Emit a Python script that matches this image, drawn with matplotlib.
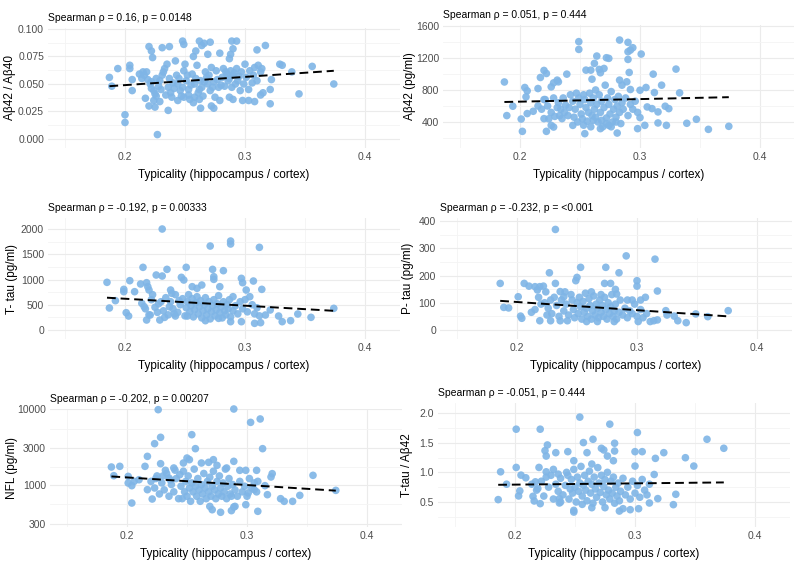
import numpy as np
import matplotlib
matplotlib.use('Agg')
from matplotlib import pyplot as plt

plt.rcParams['font.family'] = ['Liberation Sans', 'DejaVu Sans']

x_label = 'Typicality (hippocampus / cortex)'
x_ticks = [0.2, 0.3, 0.4]

# ---- panel data (typicality, marker value) ----
ab_ratio_pts = [
    (0.187, 0.056), (0.189, 0.048), (0.194, 0.064), (0.200, 0.022), (0.200, 0.015), (0.204, 0.067),
    (0.204, 0.064), (0.206, 0.054), (0.206, 0.044), (0.227, 0.004), (0.220, 0.084), (0.222, 0.080),
    (0.223, 0.074), (0.231, 0.083), (0.237, 0.084), (0.248, 0.089), (0.249, 0.086), (0.257, 0.075),
    (0.259, 0.080), (0.262, 0.089), (0.264, 0.085), (0.266, 0.087), (0.271, 0.088), (0.269, 0.077),
    (0.279, 0.078), (0.289, 0.089), (0.293, 0.089), (0.290, 0.082), (0.288, 0.077), (0.287, 0.073),
    (0.310, 0.081), (0.317, 0.085), (0.329, 0.068), (0.331, 0.067), (0.339, 0.061), (0.356, 0.066),
    (0.374, 0.050), (0.345, 0.041), (0.321, 0.045), (0.321, 0.032), (0.315, 0.042), (0.313, 0.040),
    (0.322, 0.054), (0.308, 0.034), (0.303, 0.035), (0.298, 0.035), (0.290, 0.036), (0.287, 0.038),
    (0.272, 0.030), (0.274, 0.028), (0.263, 0.028), (0.236, 0.026), (0.225, 0.029), (0.220, 0.030),
    (0.217, 0.037), (0.224, 0.035), (0.229, 0.034),
    (0.215, 0.061), (0.216, 0.058), (0.218, 0.061), (0.219, 0.054), (0.221, 0.050), (0.222, 0.046),
    (0.224, 0.044), (0.225, 0.041), (0.226, 0.039), (0.228, 0.048), (0.229, 0.053), (0.231, 0.058),
    (0.232, 0.061), (0.233, 0.064), (0.235, 0.068), (0.236, 0.047), (0.238, 0.042), (0.239, 0.038),
    (0.240, 0.051), (0.242, 0.071), (0.243, 0.058), (0.244, 0.050), (0.246, 0.044), (0.247, 0.039),
    (0.249, 0.062), (0.250, 0.068), (0.251, 0.053), (0.253, 0.045), (0.254, 0.036), (0.256, 0.059),
    (0.257, 0.033), (0.258, 0.050), (0.260, 0.067), (0.261, 0.042), (0.263, 0.053), (0.264, 0.047),
    (0.265, 0.039), (0.267, 0.061), (0.268, 0.056), (0.269, 0.050), (0.271, 0.044), (0.272, 0.065),
    (0.274, 0.052), (0.275, 0.038), (0.276, 0.062), (0.278, 0.047), (0.279, 0.035), (0.281, 0.056),
    (0.282, 0.064), (0.283, 0.048), (0.285, 0.059), (0.286, 0.053), (0.288, 0.062), (0.289, 0.047),
    (0.290, 0.058), (0.292, 0.050), (0.293, 0.064), (0.294, 0.053), (0.296, 0.044), (0.297, 0.061),
    (0.299, 0.050), (0.300, 0.068), (0.301, 0.056), (0.303, 0.045), (0.304, 0.062), (0.306, 0.051),
    (0.307, 0.058), (0.308, 0.065), (0.310, 0.053), (0.311, 0.067), (0.313, 0.061), (0.314, 0.064),
    (0.212, 0.059), (0.214, 0.055), (0.222, 0.052), (0.226, 0.055), (0.230, 0.045), (0.234, 0.040),
    (0.237, 0.055), (0.241, 0.046), (0.245, 0.055), (0.248, 0.047), (0.252, 0.058), (0.255, 0.049),
    (0.259, 0.055), (0.262, 0.045), (0.266, 0.052), (0.270, 0.058), (0.273, 0.047), (0.277, 0.054),
    (0.280, 0.049), (0.284, 0.061), (0.287, 0.055), (0.291, 0.060), (0.295, 0.057), (0.253, 0.040),
    (0.258, 0.038), (0.262, 0.036), (0.244, 0.035), (0.249, 0.038),
]

ab42_pts = [
    (0.187, 900), (0.189, 480), (0.194, 597), (0.201, 437), (0.202, 283), (0.204, 831), (0.206, 789),
    (0.205, 714), (0.206, 505), (0.211, 534), (0.215, 818), (0.217, 956), (0.220, 1044), (0.222, 1006),
    (0.221, 680), (0.220, 442), (0.222, 283), (0.226, 358), (0.228, 337), (0.226, 839), (0.228, 889),
    (0.231, 923), (0.232, 902), (0.235, 442), (0.239, 998), (0.244, 358), (0.249, 1404), (0.249, 1307),
    (0.254, 254), (0.255, 1048), (0.259, 1048), (0.260, 935), (0.262, 1132), (0.264, 1224), (0.266, 1057),
    (0.267, 1015), (0.270, 1069), (0.272, 1203), (0.274, 1195), (0.283, 1424), (0.290, 1395), (0.292, 1299),
    (0.294, 1328), (0.290, 1278), (0.290, 1182), (0.291, 1019), (0.301, 1249), (0.311, 998), (0.330, 1061),
    (0.333, 764), (0.339, 384), (0.347, 434), (0.357, 308), (0.374, 346), (0.298, 317), (0.300, 455),
    (0.304, 358), (0.315, 388), (0.322, 358), (0.312, 768), (0.318, 860), (0.321, 597), (0.324, 567),
    (0.300, 797), (0.305, 831), (0.306, 588), (0.310, 567), (0.315, 526), (0.281, 262), (0.274, 358),
    (0.267, 317), (0.261, 421), (0.283, 923), (0.285, 860), (0.289, 902), (0.292, 806),
    (0.223, 600), (0.226, 520), (0.229, 470), (0.232, 640), (0.234, 560), (0.236, 700), (0.238, 610),
    (0.240, 480), (0.242, 740), (0.244, 660), (0.246, 560), (0.247, 760), (0.249, 700), (0.250, 620),
    (0.251, 500), (0.252, 440), (0.253, 740), (0.254, 680), (0.255, 580), (0.256, 410), (0.257, 520),
    (0.258, 760), (0.259, 640), (0.260, 480), (0.261, 700), (0.262, 560), (0.263, 800), (0.264, 620),
    (0.265, 400), (0.266, 740), (0.267, 520), (0.268, 660), (0.269, 340), (0.270, 580), (0.271, 860),
    (0.272, 450), (0.273, 700), (0.274, 620), (0.275, 500), (0.276, 780), (0.277, 400), (0.278, 560),
    (0.279, 680), (0.280, 460), (0.281, 600), (0.282, 720), (0.283, 520), (0.284, 380), (0.285, 640),
    (0.286, 560), (0.288, 700), (0.290, 480), (0.292, 620), (0.294, 560), (0.296, 660), (0.298, 520),
    (0.215, 600), (0.218, 560), (0.220, 680), (0.224, 440), (0.228, 700), (0.231, 580), (0.233, 480),
    (0.237, 520), (0.241, 580), (0.245, 460), (0.248, 400), (0.253, 360), (0.259, 340), (0.263, 460),
    (0.268, 420), (0.272, 380), (0.276, 340), (0.280, 400),
]

ttau_pts = [
    (0.185, 944), (0.187, 436), (0.192, 581), (0.199, 805), (0.199, 759), (0.201, 343), (0.203, 277),
    (0.204, 977), (0.208, 759), (0.215, 1241), (0.213, 911), (0.218, 937), (0.219, 858), (0.220, 792),
    (0.218, 198), (0.221, 297), (0.214, 528), (0.216, 462), (0.226, 1089), (0.231, 1069), (0.231, 2000),
    (0.229, 198), (0.235, 1201), (0.238, 792), (0.239, 726), (0.247, 1043), (0.249, 990), (0.251, 1241),
    (0.256, 858), (0.260, 825), (0.264, 891), (0.271, 1663), (0.273, 1201), (0.274, 1056), (0.274, 1003),
    (0.282, 1175), (0.279, 858), (0.288, 1762), (0.288, 1703), (0.290, 660), (0.297, 1023), (0.298, 937),
    (0.297, 165), (0.301, 792), (0.307, 970), (0.312, 1637), (0.314, 805), (0.308, 132), (0.313, 145),
    (0.317, 297), (0.321, 396), (0.328, 277), (0.331, 165), (0.338, 185), (0.344, 317), (0.355, 251),
    (0.374, 429), (0.288, 165), (0.278, 231), (0.267, 185), (0.252, 277), (0.242, 277),
    (0.222, 600), (0.225, 450), (0.228, 520), (0.232, 380), (0.234, 640), (0.236, 300), (0.238, 560),
    (0.240, 420), (0.242, 700), (0.244, 350), (0.246, 500), (0.248, 620), (0.250, 280), (0.251, 440),
    (0.252, 560), (0.253, 700), (0.254, 360), (0.255, 480), (0.256, 620), (0.257, 260), (0.258, 400),
    (0.259, 540), (0.260, 660), (0.261, 320), (0.262, 460), (0.263, 580), (0.264, 240), (0.265, 380),
    (0.266, 500), (0.267, 640), (0.268, 300), (0.269, 420), (0.270, 560), (0.271, 220), (0.272, 360),
    (0.273, 480), (0.274, 600), (0.275, 280), (0.276, 400), (0.277, 520), (0.278, 680), (0.279, 340),
    (0.280, 460), (0.281, 240), (0.282, 560), (0.283, 380), (0.284, 300), (0.285, 500), (0.286, 420),
    (0.287, 600), (0.288, 260), (0.290, 380), (0.292, 480), (0.294, 320), (0.296, 560), (0.298, 420),
    (0.300, 600), (0.302, 360), (0.304, 660), (0.306, 500), (0.308, 320), (0.310, 440), (0.312, 280),
    (0.217, 420), (0.220, 300), (0.223, 700), (0.227, 350), (0.230, 560), (0.233, 250), (0.237, 460),
    (0.241, 320), (0.245, 580),
]

ptau_pts = [
    (0.186, 171), (0.189, 83), (0.193, 81), (0.201, 122), (0.203, 51), (0.204, 43), (0.206, 171),
    (0.210, 161), (0.215, 159), (0.217, 147), (0.219, 159), (0.222, 161), (0.227, 210), (0.232, 369),
    (0.232, 171), (0.236, 141), (0.239, 122), (0.249, 181), (0.250, 193), (0.253, 230), (0.274, 230),
    (0.273, 171), (0.278, 171), (0.285, 210), (0.291, 272), (0.282, 149), (0.283, 132), (0.300, 181),
    (0.300, 161), (0.315, 260), (0.317, 143), (0.301, 31), (0.292, 110), (0.296, 110), (0.307, 120),
    (0.303, 110), (0.324, 71), (0.325, 55), (0.331, 51), (0.334, 34), (0.341, 27), (0.349, 59),
    (0.359, 49), (0.376, 71), (0.314, 34), (0.317, 37), (0.311, 31), (0.228, 34), (0.236, 34),
    (0.219, 34), (0.225, 55), (0.242, 34), (0.258, 31), (0.267, 31), (0.281, 31),
    (0.223, 100), (0.226, 80), (0.229, 60), (0.231, 120), (0.233, 90), (0.235, 50), (0.237, 110),
    (0.239, 70), (0.241, 95), (0.243, 55), (0.245, 130), (0.247, 75), (0.248, 45), (0.250, 100),
    (0.251, 60), (0.252, 120), (0.253, 85), (0.254, 40), (0.255, 105), (0.256, 65), (0.257, 135),
    (0.258, 80), (0.259, 50), (0.260, 115), (0.261, 90), (0.262, 40), (0.263, 70), (0.264, 125),
    (0.265, 55), (0.266, 95), (0.267, 80), (0.268, 45), (0.269, 110), (0.270, 65), (0.271, 90),
    (0.272, 50), (0.273, 120), (0.274, 75), (0.275, 40), (0.276, 100), (0.277, 60), (0.278, 85),
    (0.279, 130), (0.280, 50), (0.281, 70), (0.282, 95), (0.283, 40), (0.285, 65), (0.286, 110),
    (0.288, 55), (0.290, 80), (0.292, 45), (0.294, 70), (0.296, 60), (0.298, 95), (0.300, 50),
    (0.303, 75), (0.305, 45), (0.308, 60), (0.215, 75), (0.218, 120), (0.220, 95), (0.212, 65),
    (0.224, 140), (0.228, 110), (0.240, 140), (0.246, 110), (0.262, 140), (0.270, 130),
]

nfl_pts = [
    (0.187, 1706), (0.189, 1309), (0.194, 1741), (0.201, 1282), (0.204, 569), (0.201, 1047), (0.204, 966),
    (0.206, 1102), (0.210, 1158), (0.215, 1741), (0.217, 2360), (0.217, 855), (0.221, 643), (0.223, 3475),
    (0.226, 9800), (0.228, 4218), (0.228, 1888), (0.232, 1542), (0.235, 1218), (0.239, 1656), (0.247, 1928),
    (0.250, 2243), (0.252, 2134), (0.254, 4572), (0.257, 2985), (0.262, 1928), (0.268, 1967), (0.272, 2134),
    (0.275, 1795), (0.278, 429), (0.271, 464), (0.269, 514), (0.289, 10000), (0.289, 2028), (0.283, 1656),
    (0.289, 504), (0.287, 451), (0.290, 514), (0.299, 541), (0.294, 1542), (0.299, 1542), (0.303, 6652),
    (0.311, 7379), (0.313, 2985), (0.308, 1542), (0.309, 1102), (0.309, 442), (0.321, 1393), (0.320, 1259),
    (0.315, 966), (0.317, 734), (0.328, 650), (0.331, 599), (0.338, 599), (0.344, 719), (0.355, 1324),
    (0.374, 837), (0.301, 773), (0.306, 855),
    (0.220, 1100), (0.223, 900), (0.225, 1300), (0.227, 750), (0.229, 1050), (0.231, 850), (0.233, 1400),
    (0.235, 700), (0.237, 1000), (0.239, 800), (0.241, 1200), (0.243, 650), (0.245, 950), (0.247, 1500),
    (0.248, 800), (0.249, 1100), (0.250, 700), (0.251, 1300), (0.252, 900), (0.253, 600), (0.254, 1050),
    (0.255, 800), (0.256, 1600), (0.257, 950), (0.258, 700), (0.259, 1200), (0.260, 850), (0.261, 600),
    (0.262, 1000), (0.263, 750), (0.264, 1400), (0.265, 900), (0.266, 650), (0.267, 1100), (0.268, 800),
    (0.269, 1250), (0.270, 700), (0.271, 950), (0.272, 1500), (0.273, 850), (0.274, 650), (0.275, 1100),
    (0.276, 750), (0.277, 1300), (0.278, 900), (0.279, 700), (0.280, 1050), (0.281, 800), (0.282, 1600),
    (0.283, 650), (0.284, 950), (0.285, 1200), (0.286, 750), (0.287, 700), (0.288, 1000), (0.290, 850),
    (0.292, 700), (0.294, 1100), (0.296, 800), (0.298, 950), (0.300, 700), (0.302, 1200), (0.304, 900),
    (0.306, 1050), (0.308, 800), (0.224, 1200), (0.230, 1300), (0.236, 1150), (0.244, 1350), (0.246, 650),
    (0.240, 1550),
]

tau_ab_pts = [
    (0.186, 0.540), (0.188, 1.009), (0.193, 0.800), (0.201, 1.728), (0.201, 1.083), (0.203, 0.602),
    (0.204, 0.687), (0.205, 0.953), (0.209, 0.908), (0.215, 0.596), (0.216, 0.517), (0.217, 0.840),
    (0.220, 1.083), (0.221, 1.728), (0.219, 0.727), (0.221, 0.472), (0.225, 1.366), (0.227, 1.462),
    (0.226, 1.275), (0.226, 1.009), (0.234, 1.332), (0.236, 0.970), (0.237, 0.557), (0.237, 0.483),
    (0.244, 1.349), (0.249, 0.359), (0.249, 1.196), (0.254, 1.932), (0.257, 1.502), (0.260, 1.332),
    (0.265, 1.558), (0.264, 1.140), (0.272, 1.406), (0.274, 1.377), (0.277, 1.275), (0.279, 1.813),
    (0.283, 1.491), (0.283, 1.360), (0.282, 1.196), (0.302, 1.672), (0.300, 1.349), (0.306, 1.349),
    (0.300, 1.106), (0.317, 1.236), (0.324, 1.332), (0.316, 0.964), (0.342, 1.247), (0.349, 1.106),
    (0.360, 1.558), (0.374, 1.406), (0.334, 0.630), (0.332, 0.455), (0.319, 0.557), (0.312, 0.483),
    (0.303, 0.387), (0.287, 0.347), (0.290, 0.387), (0.296, 0.370), (0.275, 0.404), (0.264, 0.404),
    (0.256, 0.460), (0.249, 0.330),
    (0.222, 0.85), (0.224, 0.60), (0.228, 0.75), (0.230, 0.95), (0.232, 0.55), (0.234, 0.80),
    (0.236, 0.68), (0.238, 0.90), (0.240, 0.62), (0.242, 0.78), (0.243, 1.00), (0.245, 0.55),
    (0.246, 0.72), (0.247, 0.88), (0.248, 0.65), (0.249, 1.05), (0.250, 0.75), (0.251, 0.50),
    (0.252, 0.92), (0.253, 0.68), (0.254, 0.82), (0.255, 1.10), (0.256, 0.60), (0.257, 0.78),
    (0.258, 0.95), (0.259, 0.70), (0.260, 0.52), (0.261, 0.85), (0.262, 1.02), (0.263, 0.65),
    (0.264, 0.80), (0.265, 0.48), (0.266, 0.92), (0.267, 0.72), (0.268, 0.58), (0.269, 1.08),
    (0.270, 0.82), (0.271, 0.66), (0.272, 0.95), (0.273, 0.50), (0.274, 0.76), (0.275, 0.88),
    (0.276, 0.62), (0.277, 1.00), (0.278, 0.70), (0.279, 0.55), (0.280, 0.85), (0.281, 0.65),
    (0.282, 0.92), (0.283, 0.48), (0.284, 0.75), (0.285, 0.60), (0.286, 0.82), (0.287, 0.52),
    (0.288, 0.68), (0.290, 0.90), (0.292, 0.62), (0.294, 0.75), (0.296, 0.55), (0.298, 0.85),
    (0.300, 0.65), (0.302, 0.78), (0.304, 0.58), (0.306, 0.88), (0.308, 0.70), (0.310, 0.62),
    (0.312, 0.80), (0.226, 0.92), (0.232, 1.05), (0.238, 0.50), (0.244, 0.95), (0.214, 0.80),
    (0.218, 0.70),
]

titles = [
    'Spearman ρ = 0.16, p = 0.0148',
    'Spearman ρ = 0.051, p = 0.444',
    'Spearman ρ = -0.192, p = 0.00333',
    'Spearman ρ = -0.232, p = <0.001',
    'Spearman ρ = -0.202, p = 0.00207',
    'Spearman ρ = -0.051, p = 0.444',
]
y_labels = ['Aβ42 / Aβ40', 'Aβ42 (pg/ml)', 'T- tau (pg/ml)', 'P- tau (pg/ml)', 'NFL (pg/ml)', 'T-tau / Aβ42']
y_ticks = [
    [0.0, 0.025, 0.05, 0.075, 0.1],
    [400, 800, 1200, 1600],
    [0, 500, 1000, 1500, 2000],
    [0, 100, 200, 300, 400],
    [300, 1000, 3000, 10000],
    [0.5, 1.0, 1.5, 2.0],
]
y_tick_labels = [
    ['0.000', '0.025', '0.050', '0.075', '0.100'],
    ['400', '800', '1200', '1600'],
    ['0', '500', '1000', '1500', '2000'],
    ['0', '100', '200', '300', '400'],
    ['300', '1000', '3000', '10000'],
    ['0.5', '1.0', '1.5', '2.0'],
]
# dashed linear fit, value at the lowest and highest typicality
trend_ends = [(0.048, 0.062), (650, 710), (640, 380), (107, 50), (1280, 830), (0.79, 0.83)]
panel_data = [ab_ratio_pts, ab42_pts, ttau_pts, ptau_pts, nfl_pts, tau_ab_pts]

# panel boxes in pixels: left, top, bottom, y-label centre x, plus y limits
W, H = 794, 569
panels = [
    (48.2, 28.0, 148.0, 10, (-0.0082, 0.1009), False),
    (443.2, 25.0, 148.0, 410, (75, 1612), False),
    (48.2, 218.0, 339.0, 12, (-178, 2218), False),
    (440.2, 218.0, 339.0, 408, (-33, 411), False),
    (50.2, 409.0, 527.0, 12, (274, 10000), True),
    (438.2, 403.0, 527.0, 407, (0.078, 2.17), False),
]
xlim = (0.136, 0.429)
panel_w = (xlim[1] - xlim[0]) * 1200

fig = plt.figure(figsize=(W / 100, H / 100), dpi=100)
fig.patch.set_facecolor('white')

for i, (left, top, bottom, lab_x, ylim, logy) in enumerate(panels):
    ax = fig.add_axes([left / W, 1 - bottom / H, panel_w / W, (bottom - top) / H])
    pts = np.array(panel_data[i])
    x, y = pts[:, 0], pts[:, 1]
    if logy:
        ax.set_yscale('log')

    # ggplot minimal style grid
    ax.set_axisbelow(True)
    ax.set_xticks(x_ticks)
    ax.set_xticklabels(['0.2', '0.3', '0.4'])
    ax.set_xticks([0.15, 0.25, 0.35], minor=True)
    ax.set_yticks(y_ticks[i])
    ax.set_yticklabels(y_tick_labels[i])
    yt = y_ticks[i]
    if logy:
        minor = [np.sqrt(a * b) for a, b in zip(yt[:-1], yt[1:])]
    else:
        step = yt[1] - yt[0]
        minor = [v + step / 2 for v in [yt[0] - step] + yt]
    ax.set_yticks(minor, minor=True)
    ax.set_yticklabels([], minor=True)
    ax.set_xlim(*xlim)
    ax.set_ylim(*ylim)
    ax.grid(which='major', color='#EBEBEB', lw=0.8)
    ax.grid(which='minor', color='#F4F4F4', lw=0.6)
    ax.tick_params(which='both', length=0, labelsize=7.5, labelcolor='#4D4D4D')
    ax.tick_params(axis='x', pad=3)
    ax.tick_params(axis='y', pad=3)
    for s in ax.spines.values():
        s.set_visible(False)

    ax.scatter(x, y, s=30, color='#7FB5E6', alpha=0.9, edgecolors='none', zorder=2, clip_on=False)
    ax.plot([x.min(), x.max()], trend_ends[i], color='black', lw=1.4,
            dashes=(4.5, 2.5), zorder=3)

    ax.set_title(titles[i], loc='left', fontsize=7.5, pad=5)
    ax.set_xlabel(x_label, fontsize=8.5, labelpad=5)
    ax.set_ylabel(y_labels[i], fontsize=8.5, va='center')
    ax.yaxis.set_label_coords((lab_x - left) / panel_w, 0.5)

fig.savefig('out.png', dpi=100, facecolor='white')
